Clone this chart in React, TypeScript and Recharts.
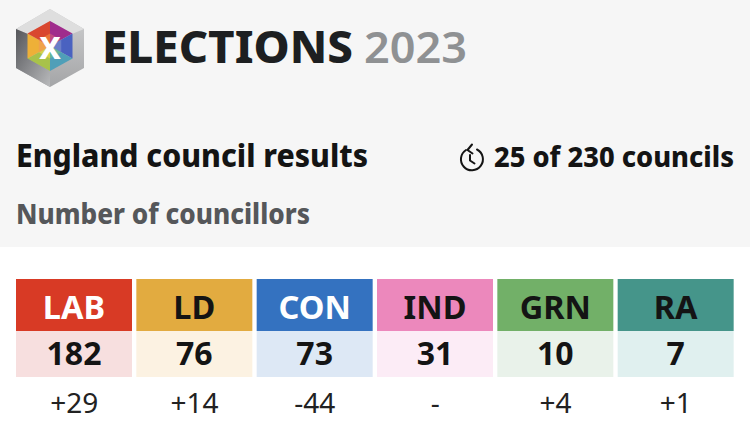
import React from 'react';
import { BarChart, Bar, XAxis, YAxis, LabelList } from 'recharts';

const parties = ['LAB', 'LD', 'CON', 'IND', 'GRN', 'RA'];
const seats = [182, 76, 73, 31, 10, 7];
const changes = ['+29', '+14', '-44', '-', '+4', '+1'];
const headerColours = ['#d83a25', '#e2ab40', '#3472c0', '#ec88bc', '#72b068', '#45958a'];
const lightColours = ['#f7dfdf', '#fcf2e2', '#dde8f5', '#fcecf6', '#e9f2ea', '#e0f0ef'];
const headerTextColours = ['#ffffff', '#141414', '#ffffff', '#141414', '#141414', '#141414'];

const rows = parties.map((party, i) => ({ party, seats: seats[i], change: changes[i] }));

const FONT = '"Noto Sans", sans-serif';
const HEAD_TOP = 279;
const HEAD_H = 52;
const BODY_H = 46;

const hexColours = ['#a02c8c', '#4a62c0', '#4f9fb8', '#a8c24a', '#eeb038', '#d9472f'];
const hexLight = ['#c24a80', '#6b7fc8', '#63b49a', '#d6d04a', '#f0a24a', '#e8743a'];

function Logo() {
  const cx = 50, cy = 46, r = 25, w = 22.5;
  const pts = [[cx, cy - r], [cx + w, cy - r / 2], [cx + w, cy + r / 2], [cx, cy + r], [cx - w, cy + r / 2], [cx - w, cy - r / 2]];
  return (
    <g>
      <defs>
        <linearGradient id="leftFace" x1="0" y1="0" x2="1" y2="1">
          <stop offset="0" stopColor="#55565a" />
          <stop offset="1" stopColor="#b9babc" />
        </linearGradient>
        <linearGradient id="rightFace" x1="0" y1="0" x2="0" y2="1">
          <stop offset="0" stopColor="#d0d0d1" />
          <stop offset="1" stopColor="#a4a5a7" />
        </linearGradient>
      </defs>
      <polygon points="50,9 84,29 84,68 50,87 16,68 16,29" fill="url(#rightFace)" />
      <polygon points="16,29 50,9 84,29 72,34 50,21 28,34" fill="#dedede" />
      <polygon points="16,29 28,34 28,58 50,71 50,87 16,68" fill="url(#leftFace)" />
      {pts.map((p, i) => {
        const q = pts[(i + 1) % 6];
        return (
          <g key={i}>
            <polygon points={`${p[0]},${p[1]} ${q[0]},${q[1]} ${cx},${cy}`} fill={hexColours[i]} />
            <polygon points={`${(p[0] + cx) / 2},${(p[1] + cy) / 2} ${(q[0] + cx) / 2},${(q[1] + cy) / 2} ${cx},${cy}`} fill={hexLight[i]} />
          </g>
        );
      })}
      <text x={50} y={59} textAnchor="middle" fontFamily={FONT} fontWeight={800} fontSize={31} fill="#fff">X</text>
    </g>
  );
}

function Header() {
  return (
    <svg width={750} height={434} style={{ position: 'absolute', left: 0, top: 0 }}>
      <rect x={0} y={0} width={750} height={247} fill="#f6f6f6" />
      <Logo />
      <text x={102} y={63} fontFamily={FONT} fontWeight={800} fontSize={44} fill="#1d1f21" textLength={251} lengthAdjust="spacingAndGlyphs">ELECTIONS</text>
      <text x={364} y={63} fontFamily={FONT} fontWeight={600} fontSize={44} fill="#8f9193" textLength={103} lengthAdjust="spacingAndGlyphs">2023</text>
      <text x={16} y={167} fontFamily={FONT} fontWeight={800} fontSize={31.5} fill="#141414" textLength={352} lengthAdjust="spacingAndGlyphs">England council results</text>
      <text x={16} y={224} fontFamily={FONT} fontWeight={800} fontSize={28} fill="#55575a" textLength={294} lengthAdjust="spacingAndGlyphs">Number of councillors</text>
      <text x={494} y={167} fontFamily={FONT} fontWeight={800} fontSize={28} fill="#141414" textLength={240} lengthAdjust="spacingAndGlyphs">25 of 230 councils</text>
      <g fill="none" stroke="#141414" strokeWidth={2} strokeLinecap="round" strokeLinejoin="round">
        <path d="M466 150 A11 11 0 1 0 477 149.5" />
        <path d="M472 144.5 L467.5 150 L472.5 153.5" />
        <path d="M470 155 L470 160.5 L474.5 163.5" />
      </g>
    </svg>
  );
}

function CellShape(props: any) {
  const { x, width, index } = props;
  return (
    <g>
      <rect x={x} y={HEAD_TOP} width={width} height={HEAD_H} fill={headerColours[index]} />
      <rect x={x} y={HEAD_TOP + HEAD_H} width={width} height={BODY_H} fill={lightColours[index]} />
    </g>
  );
}

function PartyLabel(props: any) {
  const { x, width, index, value } = props;
  return (
    <text x={x + width / 2} y={319} textAnchor="middle" fontFamily={FONT} fontWeight={700} fontSize={32.5} fill={headerTextColours[index]}>{value}</text>
  );
}

function SeatLabel(props: any) {
  const { x, width, value } = props;
  return (
    <text x={x + width / 2} y={364.5} textAnchor="middle" fontFamily={FONT} fontWeight={700} fontSize={32} fill="#141414">{value}</text>
  );
}

function ChangeTick(props: any) {
  const { x, payload } = props;
  return (
    <text x={x} y={413} textAnchor="middle" fontFamily={FONT} fontWeight={400} fontSize={28} fill="#222222">{payload.value}</text>
  );
}

export default function App() {
  return (
    <div style={{ position: 'absolute', left: 0, top: 0, width: 750, height: 434, background: '#fff', overflow: 'hidden' }}>
      <Header />
      <div style={{ position: 'absolute', left: 0, top: 0 }}>
        <BarChart
          width={750}
          height={434}
          data={rows}
          margin={{ top: 279, right: 14, bottom: 0, left: 14 }}
          barCategoryGap={2}
        >
          <XAxis dataKey="change" height={57} axisLine={false} tickLine={false} tick={<ChangeTick />} interval={0} />
          <YAxis hide domain={[0, 200]} />
          <Bar dataKey="seats" isAnimationActive={false} shape={<CellShape />}>
            <LabelList dataKey="party" content={<PartyLabel />} />
            <LabelList dataKey="seats" content={<SeatLabel />} />
          </Bar>
        </BarChart>
      </div>
    </div>
  );
}
